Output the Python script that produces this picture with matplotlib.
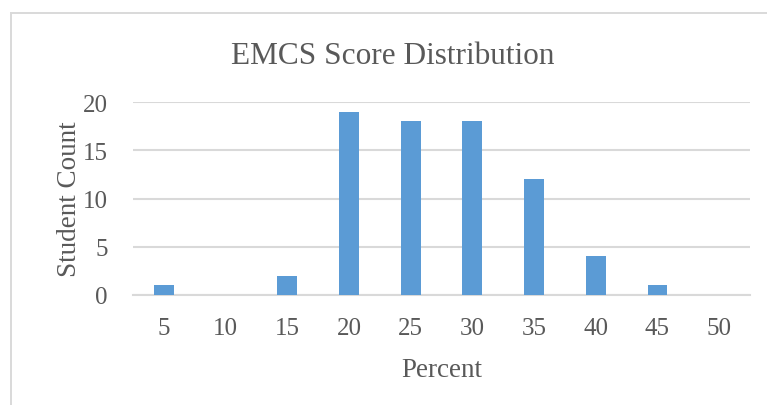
import matplotlib.pyplot as plt
from matplotlib.patches import Rectangle

plt.rcParams['font.family'] = ['Liberation Serif', 'DejaVu Serif']

percent = [5, 10, 15, 20, 25, 30, 35, 40, 45, 50]
counts = [1, 0, 2, 19, 18, 18, 12, 4, 1, 0]
y_ticks = [0, 5, 10, 15, 20]

text_color = '#595959'
grid_color = '#d9d9d9'
bar_color = '#5b9bd5'

fig = plt.figure(figsize=(7.67, 4.06), dpi=100)
# chart border like excel, cut off right and bottom
fig.patches.append(Rectangle((11 / 767, -0.01), 1.02, 1 - 13.5 / 406 + 0.01,
                             transform=fig.transFigure, fill=False,
                             edgecolor=grid_color, linewidth=1.4))

ax = fig.add_axes([133 / 767, 1 - 296 / 406, (750 - 133) / 767, (296 - 103) / 406])

pos = list(range(len(percent)))
ax.bar(pos, counts, width=0.32, color=bar_color, zorder=3)

ax.set_xlim(-0.5, len(percent) - 0.5)
ax.set_ylim(0, 20)
ax.set_yticks(y_ticks)
ax.set_xticks(pos)
ax.set_xticklabels([str(p) for p in percent])
ax.yaxis.grid(True, color=grid_color, linewidth=1.5, zorder=0)
ax.set_axisbelow(True)
for s in ['top', 'right', 'left']:
    ax.spines[s].set_visible(False)
ax.spines['bottom'].set_color(grid_color)
ax.spines['bottom'].set_linewidth(1.5)
ax.tick_params(axis='both', length=0, labelsize=18, colors=text_color)
ax.tick_params(axis='x', pad=16)
ax.tick_params(axis='y', pad=18)

ax.set_xlabel('Percent', fontsize=19.5, color=text_color, labelpad=13)
ax.set_ylabel('Student Count', fontsize=19.5, color=text_color, labelpad=1)
fig.text(393 / 767, 1 - 56 / 406, 'EMCS Score Distribution', fontsize=22.5,
         color=text_color, ha='center', va='center')

fig.savefig('out.png', dpi=100)
